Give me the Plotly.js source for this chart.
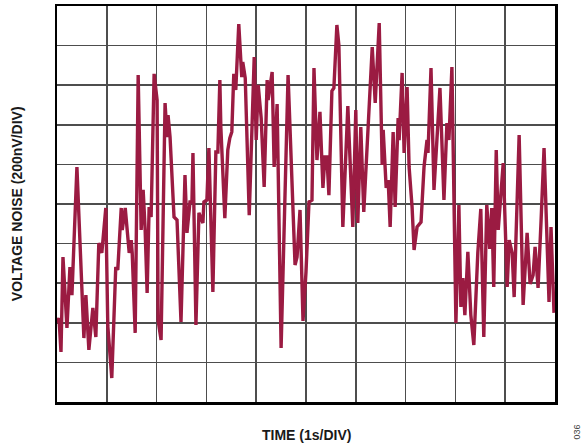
<!DOCTYPE html>
<html>
<head>
<meta charset="utf-8">
<script src="https://cdn.plot.ly/plotly-3.0.1.min.js"></script>
<style>html,body{margin:0;padding:0;background:#fff;}#chart{width:585px;height:446px;}</style>
</head>
<body>
<div id="chart"></div>
<script>
// Time in seconds (1 s per division), noise voltage in nV (200 nV per division)
var timeS = [0.00,0.04,0.08,0.12,0.20,0.26,0.30,0.32,0.40,0.54,0.58,0.64,0.72,0.78,0.84,0.90,0.92,0.98,1.02,1.10,
1.18,1.22,1.29,1.31,1.37,1.43,1.45,1.49,1.51,1.57,1.63,1.69,1.73,1.77,1.81,1.85,1.89,1.95,2.01,2.03,
2.09,2.17,2.21,2.23,2.27,2.35,2.41,2.49,2.57,2.61,2.67,2.71,2.73,2.79,2.85,2.93,2.95,3.01,3.05,3.13,
3.19,3.23,3.27,3.29,3.37,3.43,3.47,3.51,3.55,3.59,3.65,3.71,3.73,3.78,3.86,3.96,4.00,4.04,4.10,4.16,
4.22,4.24,4.32,4.36,4.42,4.50,4.64,4.78,4.82,4.88,4.94,5.00,5.06,5.12,5.16,5.22,5.28,5.34,5.38,5.42,
5.46,5.52,5.56,5.62,5.66,5.74,5.84,5.94,6.00,6.04,6.10,6.16,6.26,6.33,6.39,6.47,6.53,6.55,6.61,6.65,
6.69,6.75,6.79,6.85,6.87,6.93,6.97,7.03,7.07,7.13,7.17,7.23,7.31,7.37,7.43,7.45,7.51,7.57,7.69,7.77,
7.83,7.87,7.93,8.01,8.07,8.11,8.15,8.19,8.25,8.31,8.37,8.45,8.51,8.57,8.63,8.69,8.73,8.77,8.82,8.86,
8.96,9.04,9.08,9.14,9.18,9.28,9.36,9.44,9.50,9.56,9.60,9.66,9.72,9.78,9.88,9.92,9.98];
var noiseNV = [-601,-576,-747,-268,-626,-318,-460,-318,187,-677,-460,-737,-525,-672,-197,-247,-197,-20,-616,-879,
-318,-333,-20,-131,-20,-217,-247,-182,-247,-651,651,-131,71,-131,-449,-15,-66,657,525,-586,
-687,510,338,449,338,-66,-81,-596,146,-146,10,10,258,-611,-45,-96,10,20,283,-444,
263,263,626,389,-71,273,333,364,657,576,909,641,717,636,-56,742,323,601,434,86,
626,525,667,187,505,-727,651,-308,-268,-30,-591,-343,10,20,687,222,465,81,237,237,
45,571,586,904,803,-116,495,-116,475,-96,389,-40,439,793,510,914,197,374,81,121,
-116,364,-15,434,323,662,258,591,187,-15,-232,-116,-91,187,323,258,687,71,586,20,
409,323,692,-601,-5,-520,-374,-561,-242,-561,-712,-247,-25,-672,-5,-227,-20,-419,273,-131,
207,-419,-182,-247,-470,348,-510,-146,-404,-359,-217,-424,-86,283,-495,-116,-550];

var xTitle = 'TIME (1s/DIV)';
var yTitle = 'VOLTAGE NOISE (200nV/DIV)';
var figId = '036';

var trace = {
  x: timeS, y: noiseNV, type: 'scatter', mode: 'lines',
  line: {color: '#9b1b42', width: 3.4}, hoverinfo: 'skip'
};

var axisCommon = {
  showgrid: true, gridcolor: '#4d4d4d', gridwidth: 1.6,
  zeroline: false, showticklabels: false, ticks: '',
  showline: true, mirror: true, linecolor: '#000', linewidth: 2.5,
  fixedrange: true
};

var layout = {
  width: 585, height: 446,
  margin: {l: 57, r: 30, t: 6, b: 44},
  paper_bgcolor: '#fff', plot_bgcolor: '#fff',
  showlegend: false,
  xaxis: Object.assign({}, axisCommon, {range: [0, 10], dtick: 1, tick0: 0}),
  yaxis: Object.assign({}, axisCommon, {range: [-1000, 1000], dtick: 200, tick0: -1000}),
  font: {family: 'Liberation Sans, Arial, sans-serif', color: '#000'},
  annotations: [
    {text: '<b>' + xTitle + '</b>', xref: 'paper', yref: 'paper', x: 0.5, y: -0.083,
     xanchor: 'center', yanchor: 'middle', showarrow: false,
     font: {size: 14, family: 'Liberation Sans, Arial, sans-serif', color: '#1a1a1a'}},
    {text: '<b>' + yTitle + '</b>', xref: 'paper', yref: 'paper', x: -0.08, y: 0.5,
     xanchor: 'center', yanchor: 'middle', showarrow: false, textangle: -90,
     font: {size: 14, family: 'Liberation Sans, Arial, sans-serif', color: '#1a1a1a'}},
    {text: figId, xref: 'paper', yref: 'paper', x: 1.044, y: -0.075,
     xanchor: 'center', yanchor: 'middle', showarrow: false, textangle: -90,
     font: {size: 9, family: 'Liberation Sans, Arial, sans-serif', color: '#444'}}
  ]
};

Plotly.newPlot('chart', [trace], layout, {staticPlot: true, displayModeBar: false});
</script>
</body>
</html>
